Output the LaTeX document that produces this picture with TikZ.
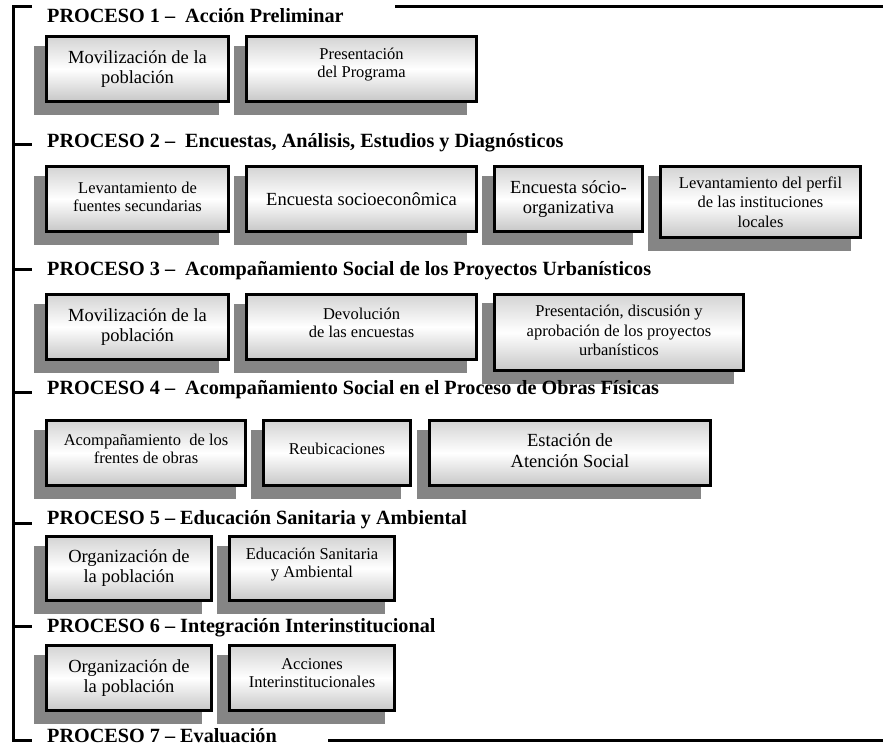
\documentclass[tikz,border=0pt]{standalone}
\usepackage{fontspec}
\setmainfont{Liberation Serif}
\usetikzlibrary{shadows}
\begin{document}
\begin{tikzpicture}[x=1pt,y=-1pt,
  hdr/.style={anchor=base west, inner sep=0pt, font=\fontsize{20.2}{24}\selectfont\bfseries},
  box/.style={draw=black, line width=3.2pt, inner sep=0pt, top color=black!17, bottom color=black!22, middle color=white,
    general shadow={shadow xshift=-11pt, shadow yshift=-11.5pt, fill=black!48, draw=black!48, line width=3.2pt}},
  big/.style={align=center, inner sep=0pt, font=\fontsize{18.5}{20}\selectfont},
  sml/.style={align=center, inner sep=0pt, font=\fontsize{16.5}{18}\selectfont},
  rulel/.style={line width=3pt, line cap=butt}]
\useasboundingbox (0,0) rectangle (883,746);

% bracket
\coordinate (s0) at (13.5,7);
\coordinate (s7) at (13.5,740);
\coordinate (e0) at (32,7);
\coordinate (e7) at (32,740);
\draw[rulel] (e0) -- (s0) -- (s7) -- (e7);
\foreach \n/\y in {2/145,3/269,4/392,5/523,6/626}{
  \coordinate (s\n) at (13.5,\y);
  \coordinate (e\n) at (32,\y);
  \draw[rulel] (s\n) -- (e\n);
}
\coordinate (tr1) at (395,7);
\coordinate (tr2) at (883,7);
\coordinate (br1) at (328,740);
\coordinate (br2) at (883,740);
\draw[rulel] (tr1) -- (tr2);
\draw[rulel] (br1) -- (br2);

% row 1
\node[box, minimum width=182pt, minimum height=65pt] (b11) at (137.5,69) {};
\node[big] (t11) at (b11.center) {Movilización de la\\población};
\node[box, minimum width=230pt, minimum height=65pt] (b12) at (361.5,69) {};
\node[sml] (t12) at ([yshift=4pt]b12.center) {Presentación\\del Programa};

% row 2
\node[box, minimum width=182pt, minimum height=65pt] (b21) at (137.5,199) {};
\node[sml] (t21) at ([yshift=2pt]b21.center) {Levantamiento de\\fuentes secundarias};
\node[box, minimum width=230pt, minimum height=65pt] (b22) at (361.5,199) {};
\node[big] (t22) at (b22.center) {Encuesta socioeconômica};
\node[box, minimum width=148pt, minimum height=65pt] (b23) at (568.5,199) {};
\node[big] (t23) at (b23.center) {Encuesta sócio-\\organizativa};
\node[box, minimum width=200pt, minimum height=71pt] (b24) at (760.5,202) {};
\node[sml, font=\fontsize{16.5}{19.5}\selectfont] (t24) at (b24.center) {Levantamiento del perfil\\de las instituciones\\locales};

% row 3
\node[box, minimum width=182pt, minimum height=65pt] (b31) at (137.5,327) {};
\node[big] (t31) at (b31.center) {Movilización de la\\población};
\node[box, minimum width=230pt, minimum height=65pt] (b32) at (361.5,327) {};
\node[sml] (t32) at ([yshift=4pt]b32.center) {Devolución\\de las encuestas};
\node[box, minimum width=249pt, minimum height=76pt, general shadow={shadow xshift=-11pt, shadow yshift=-10pt, fill=black!48, draw=black!48, line width=3.2pt}] (b33) at (619,332.5) {};
\node[sml, font=\fontsize{16.5}{19.5}\selectfont] (t33) at ([yshift=2pt]b33.center) {Presentación, discusión y\\aprobación de los proyectos\\urbanísticos};

% row 4
\node[box, minimum width=199pt, minimum height=65pt] (b41) at (146,453) {};
\node[sml] (t41) at ([yshift=4pt]b41.center) {Acompañamiento\ \ de los\\frentes de obras};
\node[box, minimum width=147pt, minimum height=65pt] (b42) at (337,453) {};
\node[sml] (t42) at ([yshift=4pt]b42.center) {Reubicaciones};
\node[box, minimum width=281pt, minimum height=65pt] (b43) at (570,453) {};
\node[big, font=\fontsize{18.5}{21}\selectfont] (t43) at ([yshift=2pt]b43.center) {Estación de\\Atención Social};

% row 5
\node[box, minimum width=165pt, minimum height=64pt] (b51) at (129,568.5) {};
\node[big] (t51) at (b51.center) {Organización de\\la población};
\node[box, minimum width=165pt, minimum height=64pt] (b52) at (312,568.5) {};
\node[sml] (t52) at ([yshift=4pt]b52.center) {Educación Sanitaria\\y Ambiental};

% row 6
\node[box, minimum width=165pt, minimum height=65pt] (b61) at (129,678) {};
\node[big] (t61) at (b61.center) {Organización de\\la población};
\node[box, minimum width=165pt, minimum height=65pt] (b62) at (312,678) {};
\node[sml] (t62) at ([yshift=5pt]b62.center) {Acciones\\Interinstitucionales};

% headers (drawn last, on top)
\node[hdr] (h1) at (47,23) {PROCESO 1 –\ \ Acción Preliminar};
\node[hdr] (h2) at (47,148) {PROCESO 2 –\ \ Encuestas, Análisis, Estudios y Diagnósticos};
\node[hdr] (h3) at (47,275) {PROCESO 3 –\ \ Acompañamiento Social de los Proyectos Urbanísticos};
\node[hdr] (h4) at (47,394) {PROCESO 4 –\ \ Acompañamiento Social en el Proceso de Obras Físicas};
\node[hdr] (h5) at (47,524) {PROCESO 5 – Educación Sanitaria y Ambiental};
\node[hdr] (h6) at (47,632) {PROCESO 6 – Integración Interinstitucional};
\node[hdr] (h7) at (47,742) {PROCESO 7 – Evaluación};
\end{tikzpicture}
\end{document}
